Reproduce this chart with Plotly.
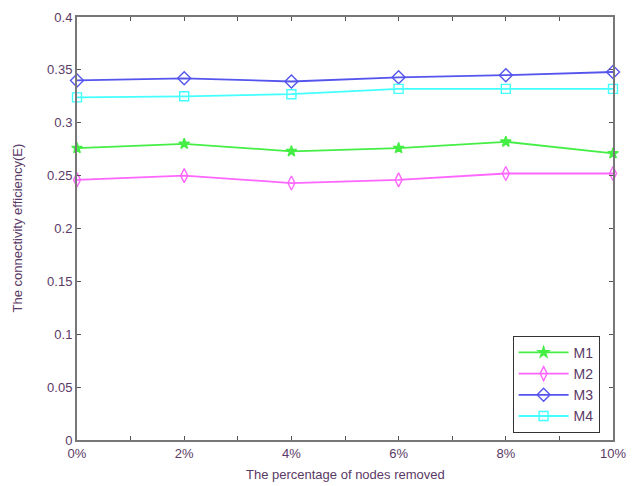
import plotly.graph_objects as go

x_vals = [0, 2, 4, 6, 8, 10]
x_labels = ["0%", "2%", "4%", "6%", "8%", "10%"]
m1 = [0.276, 0.280, 0.273, 0.276, 0.282, 0.271]
m2 = [0.246, 0.250, 0.243, 0.246, 0.252, 0.252]
m3 = [0.340, 0.342, 0.339, 0.343, 0.345, 0.348]
m4 = [0.324, 0.325, 0.327, 0.332, 0.332, 0.332]
x_title = "The percentage of nodes removed"
y_title = "The connectivity efficiency(E)"

series = [
    ("M1", m1, "#44ee44", "star", 8),
    ("M2", m2, "#ff66ff", "diamond-tall-open", 10),
    ("M3", m3, "#5555ee", "diamond-open", 10),
    ("M4", m4, "#44ffff", "square-open", 9),
]

txt = "#5a3a66"
font_fam = "Liberation Sans, Arial"
fig = go.Figure()
for name, vals, col, sym, sz in series:
    fig.add_trace(go.Scatter(
        x=x_vals, y=vals, name=name, mode="lines+markers",
        line=dict(color=col, width=1.8),
        marker=dict(symbol=sym, size=sz, color=col, line=dict(color=col, width=1.4)),
        cliponaxis=False,
    ))

axis_common = dict(
    showline=True, linecolor="#777777", linewidth=2, mirror="ticks",
    ticks="inside", ticklen=4, tickcolor="#555555", showgrid=False, zeroline=False,
    tickfont=dict(family=font_fam, size=13, color=txt),
)
fig.update_xaxes(range=[0, 10], tickmode="array", tickvals=list(range(0, 11)),
                 ticktext=[x_labels[i // 2] if i % 2 == 0 else "" for i in range(11)],
                 **axis_common)
fig.update_yaxes(range=[0, 0.4], dtick=0.05, **axis_common)
fig.add_annotation(text=x_title, xref="paper", yref="paper", x=0.5, y=0,
                   yshift=-34, showarrow=False, yanchor="middle",
                   font=dict(family=font_fam, size=13, color=txt))
fig.add_annotation(text=y_title, xref="paper", yref="paper", x=0, y=0.5,
                   xshift=-60, showarrow=False, textangle=-90, xanchor="center",
                   font=dict(family=font_fam, size=13, color=txt))
fig.update_layout(
    width=622, height=477, plot_bgcolor="white", paper_bgcolor="white",
    margin=dict(l=69, r=17, t=9, b=45, autoexpand=False),
    legend=dict(x=0.975, y=0.017, xanchor="right", yanchor="bottom",
                bordercolor="#333333", borderwidth=1, bgcolor="white",
                font=dict(family=font_fam, size=14, color=txt),
                tracegroupgap=0, itemwidth=50),
    showlegend=True,
)
fig.write_html("out.html")
